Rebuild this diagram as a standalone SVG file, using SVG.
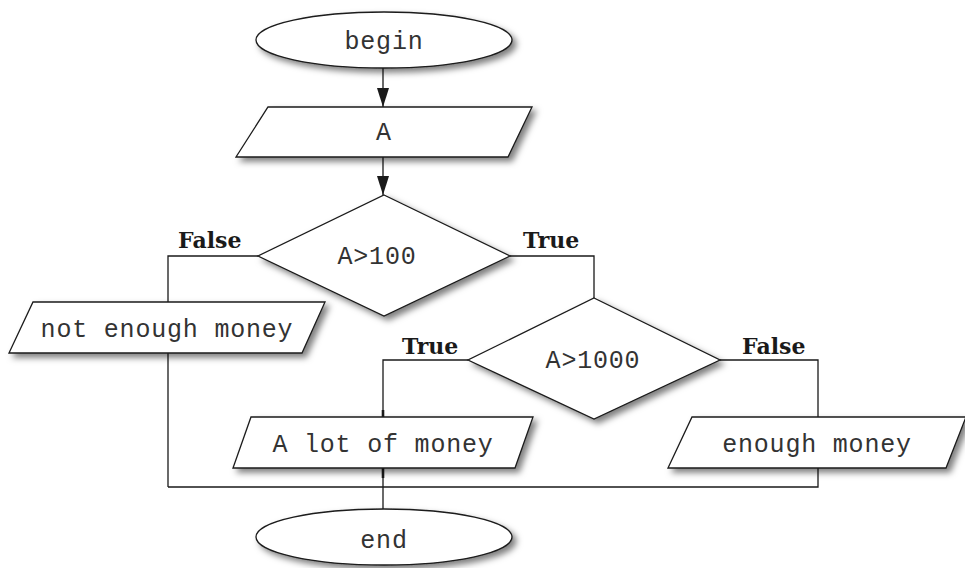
<svg xmlns="http://www.w3.org/2000/svg" width="965" height="568" viewBox="0 0 965 568">
  <defs>
    <filter id="shadow" x="-10%" y="-20%" width="130%" height="160%">
      <feDropShadow dx="4" dy="4" stdDeviation="3" flood-color="#000" flood-opacity="0.5"/>
    </filter>
    <marker id="arrow" markerUnits="userSpaceOnUse" markerWidth="20" markerHeight="12" refX="19" refY="6" orient="auto">
      <path d="M0,0 L19,6 L0,12 Z" fill="#1a1a1a"/>
    </marker>
    <style>
      .shape { fill: #fff; stroke: #1a1a1a; stroke-width: 1.3; filter: url(#shadow); }
      .line { fill: none; stroke: #1a1a1a; stroke-width: 1.3; }
      .tick { fill: none; stroke: #1a1a1a; stroke-width: 2.6; }
      .code { font-family: "Liberation Mono", "DejaVu Sans Mono", monospace; font-size: 25px; letter-spacing: 0.8px; fill: #333; text-anchor: middle; }
      .label { font-family: "DejaVu Serif", "Liberation Serif", serif; font-weight: bold; font-size: 22px; fill: #1a1a1a; }
    </style>
  </defs>

  <rect width="965" height="568" fill="#fff"/>

  <!-- connectors -->
  <g id="connectors">
    <line class="line" x1="383" y1="68" x2="383" y2="107" marker-end="url(#arrow)"/>
    <line class="line" x1="383" y1="157" x2="383" y2="195" marker-end="url(#arrow)"/>
    <!-- A>100 false branch, down to the merge line -->
    <polyline class="line" points="258,256 168,256 168,302"/>
    <line class="line" x1="168" y1="353" x2="168" y2="487"/>
    <!-- A>100 true branch -->
    <polyline class="line" points="510,256 594,256 594,298"/>
    <!-- A>1000 true branch -->
    <polyline class="line" points="468,360 383,360 383,417"/>
    <line class="tick" x1="383" y1="410" x2="383" y2="417"/>
    <line class="line" x1="383" y1="468" x2="383" y2="509"/>
    <line class="tick" x1="383" y1="468" x2="383" y2="478"/>
    <!-- A>1000 false branch -->
    <polyline class="line" points="720,360 818,360 818,417"/>
    <polyline class="line" points="818,468 818,487 168,487"/>
  </g>

  <g id="begin">
    <ellipse class="shape" cx="384" cy="40" rx="128" ry="28"/>
    <text class="code" x="384" y="49">begin</text>
  </g>

  <g id="input-a">
    <polygon class="shape" points="268,107 532,107 508,157 236,157"/>
    <text class="code" x="384" y="140">A</text>
  </g>

  <g id="check-100">
    <polygon class="shape" points="384,195 510,256 384,316 258,256"/>
    <text class="code" x="377" y="264">A&gt;100</text>
    <text class="label" x="178" y="248">False</text>
    <text class="label" x="523" y="248">True</text>
  </g>

  <g id="not-enough">
    <polygon class="shape" points="33,302 325,302 302,353 9,353"/>
    <text class="code" x="167" y="337">not enough money</text>
  </g>

  <g id="check-1000">
    <polygon class="shape" points="594,298 720,360 594,419 468,360"/>
    <text class="code" x="593" y="368">A&gt;1000</text>
    <text class="label" x="402" y="354">True</text>
    <text class="label" x="742" y="354">False</text>
  </g>

  <g id="a-lot">
    <polygon class="shape" points="251,417 533,417 515,468 233,468"/>
    <text class="code" x="383" y="452">A lot of money</text>
  </g>

  <g id="enough">
    <polygon class="shape" points="692,417 966,417 946,468 668,468"/>
    <text class="code" x="817" y="452">enough money</text>
  </g>

  <g id="end">
    <ellipse class="shape" cx="384" cy="537" rx="128" ry="28"/>
    <text class="code" x="384" y="548">end</text>
  </g>
</svg>
